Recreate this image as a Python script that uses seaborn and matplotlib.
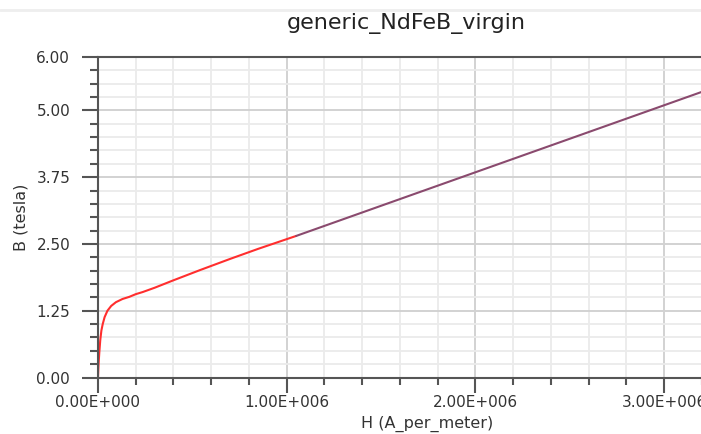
import matplotlib
matplotlib.use("Agg")
import matplotlib.pyplot as plt
from matplotlib.ticker import FixedLocator, MultipleLocator, FuncFormatter
from matplotlib.lines import Line2D
import seaborn as sns
import pandas as pd
import numpy as np

# Data (H in A/m, B in tesla)
h_curve = [0, 3e3, 7e3, 12e3, 18e3, 25e3, 35e3, 50e3, 70e3, 95e3, 130e3, 166e3,
           200e3, 237e3, 300e3, 400e3, 540e3, 700e3, 850e3, 1000e3, 1050e3]
b_curve = [0, 0.25, 0.47, 0.70, 0.88, 1.00, 1.13, 1.25, 1.34, 1.41, 1.47, 1.51,
           1.56, 1.60, 1.68, 1.82, 2.01, 2.22, 2.41, 2.59, 2.65]
h_ext = [1050e3, 3250e3]
b_ext = [2.65, 5.41]

title = "generic_NdFeB_virgin"
xlabel = "H (A_per_meter)"
ylabel = "B (tesla)"
y_major = [0, 1.25, 2.5, 3.75, 5.0, 6.0]

df = pd.concat([
    pd.DataFrame({"H": h_curve, "B": b_curve, "seg": "curve"}),
    pd.DataFrame({"H": h_ext, "B": b_ext, "seg": "ext"}),
])

sns.set_style("white")
plt.rcParams["font.family"] = ["DejaVu Sans"]

fig = plt.figure(figsize=(7.01, 4.34), dpi=100)
W, H = 701, 434
x0, x1 = 98, 98 + 188.7 * 3.3
y0, y1 = 377.5, 57
ax = fig.add_axes([x0 / W, 1 - y0 / H, (x1 - x0) / W, (y0 - y1) / H])

sns.lineplot(data=df, x="H", y="B", hue="seg", palette={"curve": "#ff2e2e", "ext": "#8a4a6e"},
             ax=ax, legend=False, linewidth=1.5, sort=False, estimator=None)

ax.set_xlim(0, 3.3e6)
ax.set_ylim(0, 6)

def sci(v, pos):
    if v == 0:
        return "0.00E+000"
    e = int(np.floor(np.log10(abs(v))))
    m = v / 10 ** e
    return f"{m:.2f}E+{e:03d}"

ax.xaxis.set_major_locator(MultipleLocator(1e6))
ax.xaxis.set_minor_locator(MultipleLocator(0.2e6))
ax.xaxis.set_major_formatter(FuncFormatter(sci))
ax.yaxis.set_major_locator(FixedLocator(y_major))
ax.yaxis.set_minor_locator(MultipleLocator(0.25))
ax.yaxis.set_major_formatter(FuncFormatter(lambda v, p: f"{v:.2f}"))

ax.grid(which="minor", color="#ebebeb", linewidth=1.3)
ax.grid(which="major", color="#d2d2d2", linewidth=1.4)
ax.set_axisbelow(True)

ax.spines["right"].set_visible(False)
for s in ["left", "bottom", "top"]:
    ax.spines[s].set_color("#555555")
    ax.spines[s].set_linewidth(1.5)

ax.tick_params(bottom=True, left=True, top=False, right=False, which="both", direction="out")
ax.tick_params(axis="y", which="major", length=11.5, width=1.5, color="#555555",
               labelsize=11, labelcolor="#333333", pad=8.5)
ax.tick_params(axis="y", which="minor", length=5.8, width=1.5, color="#555555")
ax.tick_params(axis="x", which="major", length=11, width=1.5, color="#555555",
               labelsize=11, labelcolor="#333333", pad=1.5)
ax.tick_params(axis="x", which="minor", length=5, width=1.5, color="#555555")

ax.set_xlabel("")
ax.set_ylabel("")
fig.text(427 / W, 1 - 424 / H, xlabel, ha="center", va="center", fontsize=11.5, color="#333333")
fig.text(21 / W, 1 - 217 / H, ylabel, ha="center", va="center", fontsize=11.5,
         rotation=90, color="#333333")
fig.text(406 / W, 1 - 23 / H, title, ha="center", va="center", fontsize=16, color="#222222")
fig.add_artist(Line2D([0, 1], [1 - 10 / H, 1 - 10 / H], color="#eeeeee", linewidth=2))

fig.savefig("out.png", dpi=100)
